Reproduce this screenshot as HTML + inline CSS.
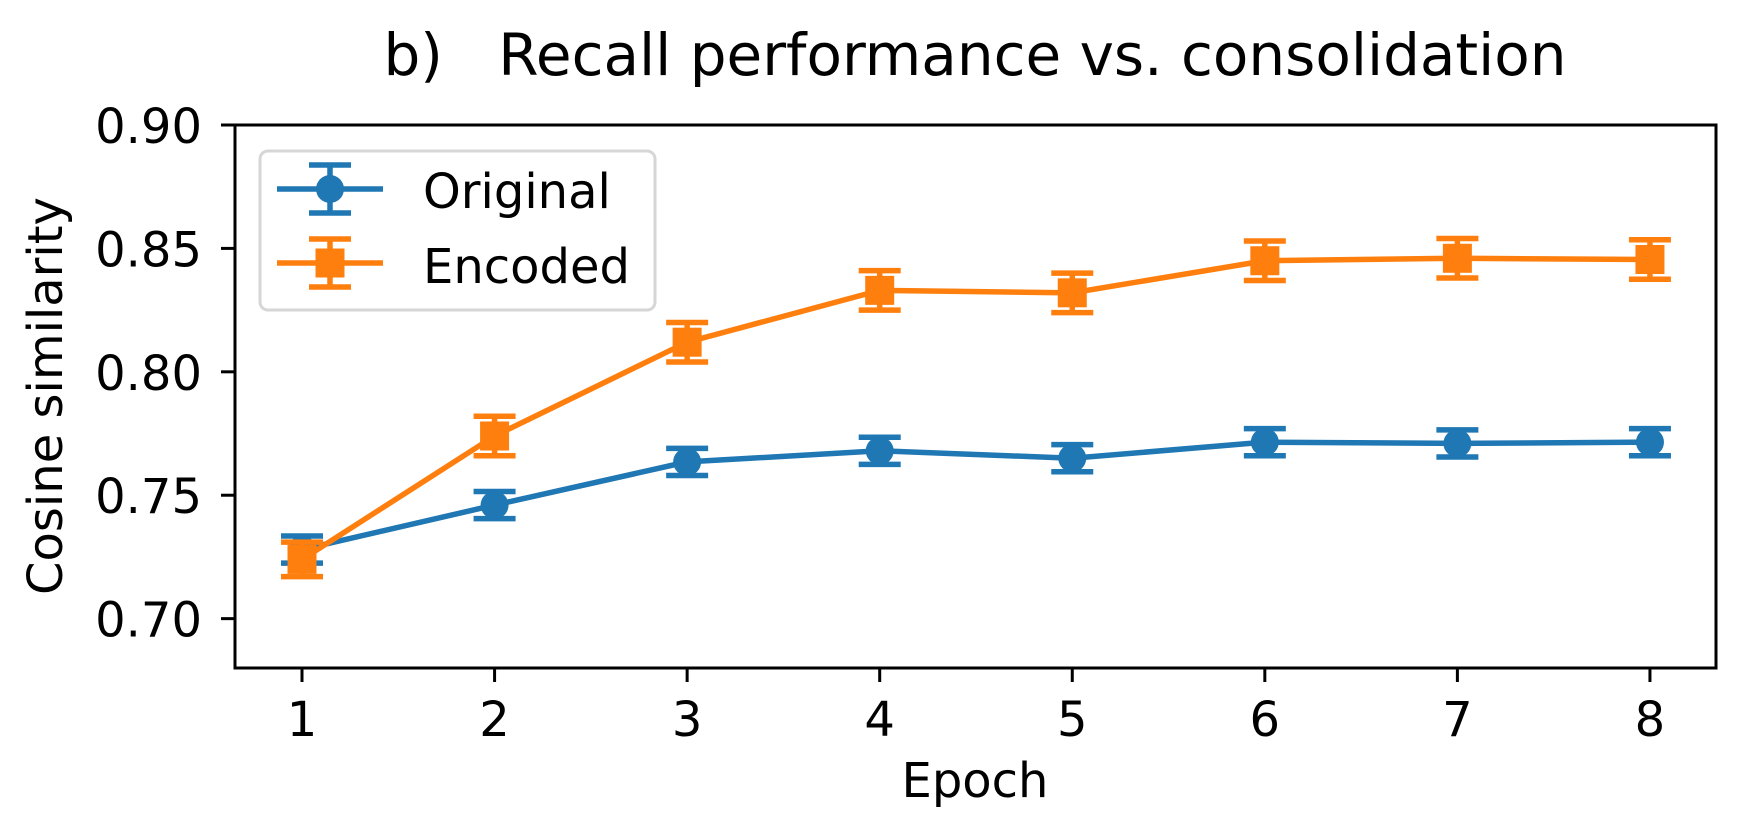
<!DOCTYPE html>
<html><head><meta charset="utf-8"><style>
html,body{margin:0;padding:0;background:#fff;}
svg{display:block;font-family:"DejaVu Sans","Liberation Sans",sans-serif;}
</style></head><body>
<svg id="chart" width="1747" height="840" viewBox="0 0 1747 840">
<text x="975" y="75" font-size="58" text-anchor="middle" xml:space="preserve">b)   Recall performance vs. consolidation</text>
<g id="plot"></g>
<text x="975" y="797" font-size="48" text-anchor="middle">Epoch</text>
<text transform="translate(62,396) rotate(-90)" font-size="48" text-anchor="middle">Cosine similarity</text>
</svg>
<script>
const epochs = [1,2,3,4,5,6,7,8];
const originalVals = [0.728,0.746,0.7635,0.768,0.765,0.7715,0.771,0.7715];
const originalErr = [0.0055,0.0055,0.0055,0.0055,0.0055,0.0055,0.0055,0.0055];
const encodedVals = [0.724,0.774,0.812,0.833,0.832,0.845,0.846,0.8455];
const encodedErr = [0.007,0.008,0.008,0.008,0.008,0.008,0.008,0.008];
const yTicks = [0.70,0.75,0.80,0.85,0.90];
const yTickLabels = ["0.70","0.75","0.80","0.85","0.90"];
const xTickLabels = ["1","2","3","4","5","6","7","8"];

const L=235,R=1716,T=125,B=668, xmin=0.652,xmax=8.343,ymin=0.68,ymax=0.90;
const sx=v=>L+(v-xmin)/(xmax-xmin)*(R-L);
const sy=v=>B-(v-ymin)/(ymax-ymin)*(B-T);
const NS="http://www.w3.org/2000/svg";
const g=document.getElementById('plot');
function mk(tag,attrs,parent){const e=document.createElementNS(NS,tag);for(const k in attrs)e.setAttribute(k,attrs[k]);(parent||g).appendChild(e);return e;}

yTicks.forEach((v,i)=>{
  const t=mk('line',{x1:L-14,x2:L,y1:sy(v),y2:sy(v),stroke:'#000','stroke-width':3});
  
  
  const lb=mk('text',{x:L-33,y:sy(v)+18,'font-size':48,'text-anchor':'end'});
  lb.textContent=yTickLabels[i];
  
  
});
epochs.forEach((v,i)=>{
  const t=mk('line',{x1:sx(v),x2:sx(v),y1:B,y2:B+14,stroke:'#000','stroke-width':3});
  
  
  const lb=mk('text',{x:sx(v),y:736,'font-size':48,'text-anchor':'middle'});
  lb.textContent=xTickLabels[i];
  
  
});

function series(vals,errs,color,shape,name){
  const sg=mk('g',{});
  
  
  const pts=epochs.map((e,i)=>sx(e)+','+sy(vals[i])).join(' ');
  const pl=mk('polyline',{points:pts,fill:'none',stroke:color,'stroke-width':5.5},sg);
  
  
  epochs.forEach((e,i)=>{
    const x=sx(e),y=sy(vals[i]),y1=sy(vals[i]+errs[i]),y2=sy(vals[i]-errs[i]);
    const eb=mk('path',{d:`M${x},${y1}V${y2}M${x-21},${y1}H${x+21}M${x-21},${y2}H${x+21}`,stroke:color,'stroke-width':5.5,fill:'none'},sg);
    
    
    let m;
    if(shape==='circle') m=mk('circle',{cx:x,cy:y,r:14,fill:color},sg);
    else m=mk('rect',{x:x-14.5,y:y-14.5,width:29,height:29,fill:color},sg);
    
    
  });
}
series(originalVals,originalErr,'#1f77b4','circle','original');
series(encodedVals,encodedErr,'#ff7f0e','square','encoded');

const frame=mk('rect',{x:L,y:T,width:R-L,height:B-T,fill:'none',stroke:'#000','stroke-width':3});



const lg=mk('g',{});


mk('rect',{x:260,y:151,width:395,height:159,rx:8,fill:'#fff','fill-opacity':0.8,stroke:'#d6d6d6','stroke-width':3},lg);
[['Original','#1f77b4','circle',189,208],['Encoded','#ff7f0e','square',263,283]].forEach(([lbl,c,s,cy,by])=>{
  const eg=mk('g',{},lg);
  
  
  mk('path',{d:`M277,${cy}H383M330,${cy-24}V${cy+24}M309,${cy-24}H351M309,${cy+24}H351`,stroke:c,'stroke-width':5.5,fill:'none'},eg);
  if(s==='circle') mk('circle',{cx:330,cy:cy,r:14,fill:c},eg);
  else mk('rect',{x:315.5,y:cy-14.5,width:29,height:29,fill:c},eg);
  const t=mk('text',{x:423,y:by,'font-size':48},eg);
  t.textContent=lbl;
});
</script>
</body></html>
